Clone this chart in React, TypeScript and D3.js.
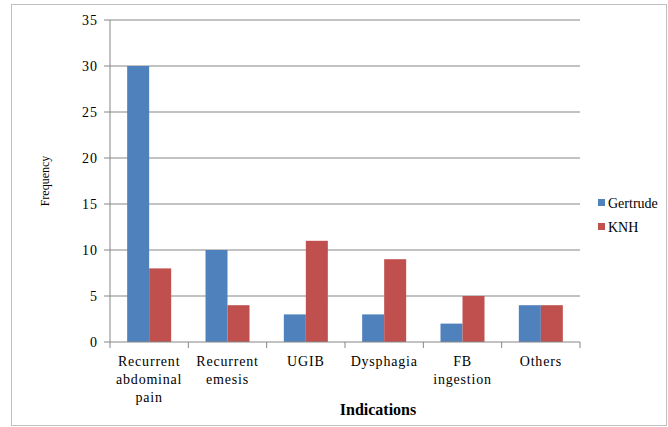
import React from "react";
import * as d3 from "d3";

const categories = [
  ["Recurrent", "abdominal", "pain"],
  ["Recurrent", "emesis"],
  ["UGIB"],
  ["Dysphagia"],
  ["FB", "ingestion"],
  ["Others"],
];
const gertrude = [30, 10, 3, 3, 2, 4];
const knh = [8, 4, 11, 9, 5, 4];
const yTicks = [0, 5, 10, 15, 20, 25, 30, 35];
const seriesNames = ["Gertrude", "KNH"];
const colors = ["#4F81BD", "#C0504D"];

export default function App() {
  const W = 668, H = 427;
  const left = 110, right = 580, top = 20, bottom = 342;
  const y = d3.scaleLinear().domain([0, 35]).range([bottom, top]);
  const x = d3.scaleBand<number>().domain(d3.range(categories.length)).range([left, right]).paddingInner(0).paddingOuter(0);
  const bw = 22;
  const font = "Liberation Serif, serif";
  const series = [gertrude, knh];
  return (
    <svg width={W} height={H} style={{ position: "absolute", left: 0, top: 0 }}>
      <rect x={11.5} y={4.5} width={655} height={421} fill="white" stroke="#BFBFBF" />
      {yTicks.map((t) => (
        <g key={t}>
          {t > 0 && <line x1={left} x2={right} y1={y(t)} y2={y(t)} stroke="#868686" strokeWidth={1} />}
          <line x1={left - 6} x2={left} y1={y(t)} y2={y(t)} stroke="#868686" />
          <text x={left - 12} y={y(t) + 5} textAnchor="end" fontFamily={font} fontSize={14} letterSpacing={1} fill="#000">{t}</text>
        </g>
      ))}
      {series.map((s, si) =>
        s.map((v, i) => (
          <rect key={si + "-" + i} x={x(i)! + x.bandwidth() / 2 - bw + si * bw} y={y(v)} width={bw} height={y(0) - y(v)} fill={colors[si]} />
        ))
      )}
      <line x1={left} x2={left} y1={top} y2={bottom} stroke="#868686" />
      <line x1={left} x2={right} y1={bottom} y2={bottom} stroke="#868686" />
      {d3.range(categories.length + 1).map((i) => (
        <line key={i} x1={left + i * x.bandwidth()} x2={left + i * x.bandwidth()} y1={bottom} y2={bottom + 6} stroke="#868686" />
      ))}
      {categories.map((lines, i) => (
        <text key={i} textAnchor="middle" fontFamily={font} fontSize={14} letterSpacing={0.8} fill="#000">
          {lines.map((l, j) => (
            <tspan key={j} x={x(i)! + x.bandwidth() / 2} y={366 + j * 18}>{l}</tspan>
          ))}
        </text>
      ))}
      <text x={378} y={415} textAnchor="middle" fontFamily={font} fontSize={16} fontWeight="bold" fill="#000">Indications</text>
      <text transform={`translate(49,${(top + bottom) / 2}) rotate(-90)`} textAnchor="middle" fontFamily={font} fontSize={12} fill="#000">Frequency</text>
      {seriesNames.map((n, i) => (
        <g key={n}>
          <rect x={598} y={199 + i * 24} width={7} height={7} fill={colors[i]} />
          <text x={608} y={208 + i * 24} fontFamily={font} fontSize={14} fill="#000">{n}</text>
        </g>
      ))}
    </svg>
  );
}
